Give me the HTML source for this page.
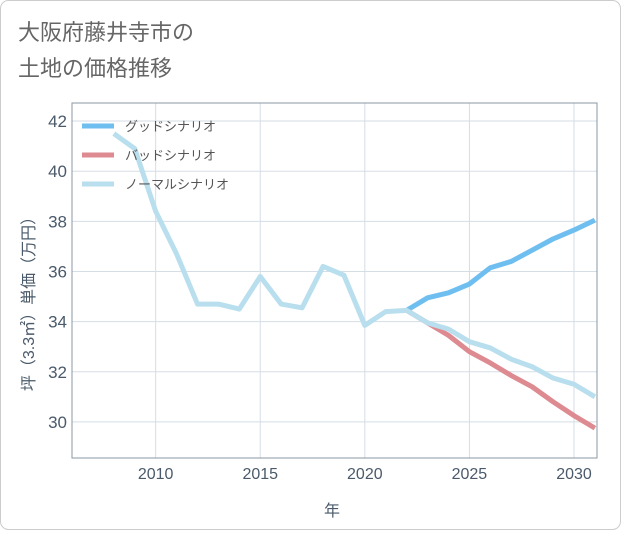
<!DOCTYPE html>
<html><head><meta charset="utf-8"><style>
body{margin:0;background:#fff;font-family:"Liberation Sans","Noto Sans CJK JP",sans-serif;}
#wrap{position:relative;width:621px;height:530px;}
</style></head><body>
<div id="wrap">
<svg id="chart" width="621" height="530">
<rect x="0.5" y="0.5" width="620" height="529" rx="8" fill="#fff" stroke="#ccc"/>
<text x="18" y="40" font-size="22" fill="#666">大阪府藤井寺市の</text>
<text x="18" y="76" font-size="22" fill="#666">土地の価格推移</text>
<g id="grid"></g>
<rect x="72" y="103" width="525" height="355" fill="none" stroke="#8a98a4"/>
<g id="series"></g>
<g id="ticks"></g>
<text x="332" y="516" font-size="16" fill="#4a5a6a" text-anchor="middle">年</text>
<text transform="translate(34,300) rotate(-90)" font-size="16" fill="#4a5a6a" text-anchor="middle">坪（3.3㎡）単価（万円）</text>
<g id="legend"></g>
</svg>
</div>
<script>
const years=[2008,2009,2010,2011,2012,2013,2014,2015,2016,2017,2018,2019,2020,2021,2022,2023,2024,2025,2026,2027,2028,2029,2030,2031];
const normalVals=[41.5,40.9,38.4,36.7,34.7,34.7,34.5,35.8,34.7,34.55,36.2,35.85,33.85,34.4,34.45,33.95,33.7,33.2,32.95,32.5,32.2,31.75,31.5,31.0];
const projYears=[2022,2023,2024,2025,2026,2027,2028,2029,2030,2031];
const goodVals=[34.45,34.95,35.15,35.5,36.15,36.4,36.85,37.3,37.65,38.05];
const badVals=[34.45,33.95,33.45,32.8,32.35,31.85,31.4,30.8,30.25,29.75];
const xTicks=[2010,2015,2020,2025,2030];
const yTicks=[30,32,34,36,38,40,42];
const legendLabels=["グッドシナリオ","バッドシナリオ","ノーマルシナリオ"];
const X0=72,X1=597,Y0=458,Y1=103,xMin=2006,xMax=2031.1,yMin=28.56,yMax=42.72;
const xs=v=>X0+(v-xMin)/(xMax-xMin)*(X1-X0);
const ys=v=>Y0-(v-yMin)/(yMax-yMin)*(Y0-Y1);
const NS="http://www.w3.org/2000/svg";
function mk(t,a,p){const e=document.createElementNS(NS,t);for(const k in a)e.setAttribute(k,a[k]);p.appendChild(e);return e;}
const grid=document.getElementById('grid'),ticks=document.getElementById('ticks'),series=document.getElementById('series'),legend=document.getElementById('legend');
xTicks.forEach(t=>{const l=mk('line',{x1:xs(t),x2:xs(t),y1:Y1,y2:Y0,stroke:'#d5dde5'},grid);


const tx=mk('text',{x:xs(t),y:479,'font-size':16,fill:'#4a5a6a','text-anchor':'middle'},ticks);tx.textContent=t;

});
yTicks.forEach(t=>{const l=mk('line',{x1:X0,x2:X1,y1:ys(t),y2:ys(t),stroke:'#d5dde5'},grid);


const tx=mk('text',{x:67,y:ys(t)+6,'font-size':17,fill:'#4a5a6a','text-anchor':'end'},ticks);tx.textContent=t;

});
function line(xv,yv,color,name){const d=xv.map((x,i)=>(i?'L':'M')+xs(x)+','+ys(yv[i])).join('');
const p=mk('path',{d:d,fill:'none',stroke:color,'stroke-width':5,'stroke-linejoin':'round','clip-path':'url(#clip)'},series);

}
const defs=mk('defs',{},document.getElementById('chart'));const cp=mk('clipPath',{id:'clip'},defs);mk('rect',{x:X0,y:Y1,width:X1-X0,height:Y0-Y1},cp);
line(projYears,goodVals,'#6fbef0','good-scenario-line');
line(projYears,badVals,'#dd8a90','bad-scenario-line');
line(years,normalVals,'#b9dfee','normal-scenario-line');
const lc=['#6fbef0','#dd8a90','#b9dfee'];
legendLabels.forEach((lab,i)=>{const y=126+i*29;
const l=mk('line',{x1:82,x2:114,y1:y,y2:y,stroke:lc[i],'stroke-width':5},legend);


const t=mk('text',{x:125,y:y+5,'font-size':13,fill:'#555'},legend);t.textContent=lab;

});
</script>
</body></html>
